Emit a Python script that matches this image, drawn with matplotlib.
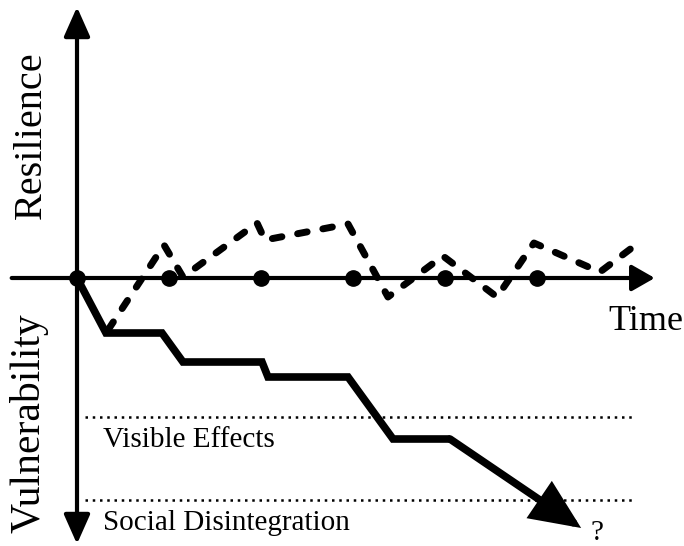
import numpy as np
import matplotlib
matplotlib.use('Agg')
import matplotlib.pyplot as plt
from matplotlib.patches import FancyArrowPatch

plt.rcParams['font.family'] = ['Liberation Serif', 'DejaVu Serif']

# time steps marked on the axis
time_ticks = [0, 1, 2, 3, 4, 5]

# vulnerability path (solid staircase), last point is the arrow tip
vuln_t = [0, 0.315, 0.924, 1.152, 2.011, 2.076, 2.946, 3.435, 4.054]
vuln_v = [0, -5.5, -5.5, -8.4, -8.4, -9.9, -9.9, -16.1, -16.1]
vuln_tip = (5.48, -25.0)

# resilience path (dashed)
res_t = [0.337, 0.946, 1.152, 1.957, 2.043, 2.946, 3.38, 3.978, 4.565, 4.967, 5.685, 6.13]
res_v = [-5.2, 3.3, 0.1, 5.5, 3.8, 5.4, -1.9, 2.2, -1.9, 3.5, 0.6, 3.7]

# threshold levels
thresholds = [-13.9, -22.2]
threshold_labels = ['Visible Effects', 'Social Disintegration']

fig = plt.figure(figsize=(6.84, 5.46), dpi=100)
ax = fig.add_axes([0, 0, 1, 1])
ax.set_xlim(-0.837, 6.598)
ax.set_ylim(-26.8, 27.8)
ax.axis('off')

# axes with arrows
ax.add_patch(FancyArrowPatch((-0.71, 0), (6.28, 0), arrowstyle='-|>,head_length=14,head_width=8',
                             mutation_scale=1, lw=3, color='black', shrinkA=0, shrinkB=0, zorder=2))
ax.add_patch(FancyArrowPatch((0, -26.6), (0, 27.1), arrowstyle='<|-|>,head_length=18,head_width=8',
                             mutation_scale=1, lw=3, color='black', shrinkA=0, shrinkB=0, zorder=2))

# threshold dotted lines and labels
for lvl, lab in zip(thresholds, threshold_labels):
    ax.plot([0.087, 6.08], [lvl, lvl], color='black', lw=1.8, linestyle=(0, (1, 1.9)), zorder=1)
    ax.text(0.283, lvl - 3.0, lab, fontsize=21, ha='left', va='baseline')

# vulnerability staircase
ax.plot(vuln_t, vuln_v, color='black', lw=5.5, solid_joinstyle='miter', solid_capstyle='butt', zorder=3)
ax.add_patch(FancyArrowPatch((vuln_t[-1], vuln_v[-1]), vuln_tip,
                             arrowstyle='-|>,head_length=27,head_width=12',
                             mutation_scale=1, lw=5.5, color='black', shrinkA=0, shrinkB=0,
                             joinstyle='miter', zorder=3))
ax.text(5.65, -26.2, '?', fontsize=21, ha='center', va='baseline')

# resilience dashed path
ax.plot(res_t, res_v, color='black', lw=5, linestyle=(0, (1.4, 2.3)),
        dash_capstyle='round', dash_joinstyle='round', zorder=4)

# time markers
ax.plot(time_ticks, np.zeros(len(time_ticks)), 'o', color='black', ms=11, zorder=5)

ax.text(6.59, -5.2, 'Time', fontsize=26, ha='right', va='baseline')
ax.text(-0.50, 14.3, 'Resilience', fontsize=29, rotation=90, ha='center', va='center')
ax.text(-0.52, -14.5, 'Vulnerability', fontsize=30, rotation=90, ha='center', va='center')

fig.savefig('out.png', dpi=100)
